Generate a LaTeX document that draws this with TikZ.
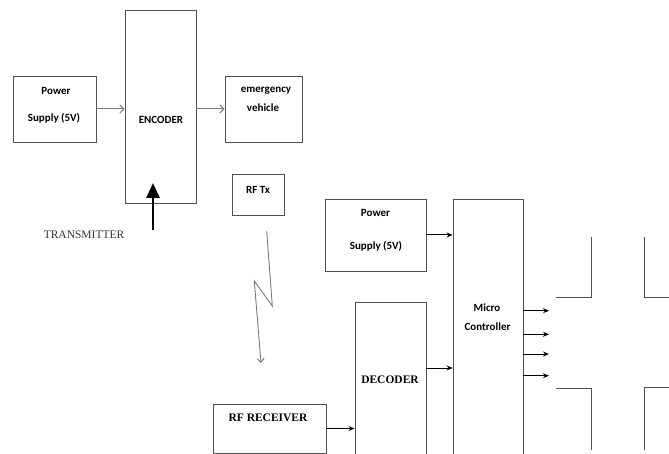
\documentclass[tikz,border=0pt]{standalone}
\usepackage{fontspec}
\usetikzlibrary{arrows.meta}
\newfontfamily\calfont{Carlito}
\newfontfamily\timesfont{Liberation Serif}
\definecolor{boxgray}{HTML}{505050}
\definecolor{arrgray}{HTML}{7A7A7A}
\definecolor{txt}{HTML}{000000}
\tikzset{
  box/.style={draw=boxgray, line width=0.9pt, rectangle, inner sep=0pt},
  lbl/.style={font=\calfont\bfseries\fontsize{11}{12}\selectfont, text=txt, inner sep=0pt},
  slbl/.style={font=\timesfont\bfseries\fontsize{11.5}{13}\selectfont, text=txt, inner sep=0pt},
  garrow/.style={draw=arrgray, line width=1pt, -{Straight Barb[length=4pt,width=8pt]}},
  barrow/.style={draw=black, line width=1pt, -{Stealth[length=6pt,width=5pt]}},
  road/.style={draw=boxgray, line width=0.9pt},
}
\begin{document}
\begin{tikzpicture}[x=1pt,y=-1pt]
\useasboundingbox (0,0) rectangle (669,454);
\fill[white] (0,0) rectangle (669,454);
\begin{scope}
\clip (0,0) rectangle (669,454);
% transmitter
\node[box, minimum width=83pt, minimum height=66pt] (ps1) at (54.5,109) {};
\node[box, minimum width=71pt, minimum height=193pt] (enc) at (160.5,106.5) {};
\node[box, minimum width=77pt, minimum height=66pt] (ev) at (263.5,109) {};
\node[box, minimum width=52pt, minimum height=41pt] (rftx) at (258,194.5) {};
\node[lbl] (ps1a) at (56,91) {Power};
\node[lbl] (ps1b) at (54,118) {Supply (5V)};
\node[lbl] (enct) at (161,120) {ENCODER};
\node[lbl] (eva) at (266,91) {emergency};
\node[lbl] (evb) at (263,108) {vehicle};
\node[lbl] (rftxt) at (258,190) {RF Tx};
\node[font=\timesfont\fontsize{11.5}{13}\selectfont, text=black!80, inner sep=0pt] (tx) at (84,235) {TRANSMITTER};
\draw[garrow] (ps1.east) -- (enc.west |- ps1.east);
\draw[garrow] (enc.east |- ev.west) -- (ev.west);
\coordinate (thA) at (153,230);
\coordinate (thB) at (153,183);
\draw[line width=2.6pt, -{Triangle[length=15pt,width=13pt]}] (thA) -- (thB);
% lightning
\coordinate (l1) at (266.7,231);
\coordinate (l2) at (272.3,306);
\coordinate (l3) at (254.3,281);
\coordinate (l4) at (261,363);
\draw[draw=arrgray, line width=0.9pt, -{Straight Barb[length=4pt,width=7pt]}] (l1) -- (l2) -- (l3) -- (l4);
% receiver
\node[box, minimum width=101pt, minimum height=72pt] (ps2) at (375.5,235) {};
\node[box, minimum width=70pt, minimum height=280pt] (mc) at (488,339) {};
\node[box, minimum width=71pt, minimum height=180pt] (dec) at (390.5,392) {};
\node[box, minimum width=113pt, minimum height=49pt] (rfrx) at (269.5,428.5) {};
\node[lbl] (ps2a) at (375.5,213) {Power};
\node[lbl] (ps2b) at (376,246) {Supply (5V)};
\node[lbl] (mca) at (487,308) {Micro};
\node[lbl] (mcb) at (487.5,327) {Controller};
\node[slbl] (dect) at (390,380) {DECODER};
\node[slbl] (rfrxt) at (268,418) {RF RECEIVER};
\draw[barrow] (ps2.east) -- (mc.west |- ps2.east);
\coordinate (dy) at (426,368);
\draw[barrow] (dec.east |- dy) -- (mc.west |- dy);
\draw[barrow] (rfrx.east) -- (dec.west |- rfrx.east);
\foreach \yy/\nm in {310.7/o1,334.3/o2,354/o3,375.7/o4}{
  \coordinate (\nm) at (549,\yy);
  \draw[barrow] (mc.east |- \nm) -- (\nm);
}
% road
\draw[road] (555.7,297.3) -- (591,297.3) -- (591,236.7);
\draw[road] (644.3,236.7) -- (644.3,297.3) -- (669,297.3);
\draw[road] (555.7,388.3) -- (591,388.3) -- (591,450);
\draw[road] (644.3,450) -- (644.3,387.3) -- (669,387.3);
\end{scope}
\end{tikzpicture}
\end{document}
